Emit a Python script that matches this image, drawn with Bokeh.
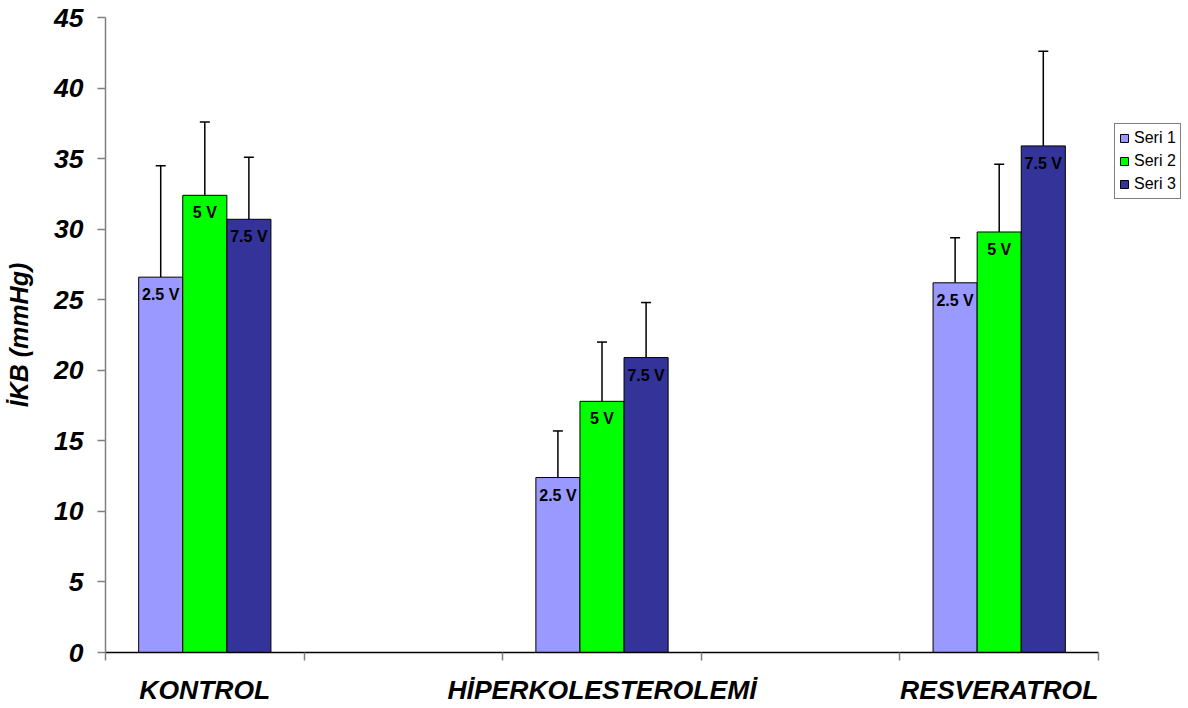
from bokeh.plotting import figure
from bokeh.models import (ColumnDataSource, Whisker, TeeHead, FixedTicker, Legend,
                          LegendItem, Range1d)
from bokeh.core.properties import value
from bokeh.embed import file_html
from bokeh.resources import INLINE

# ---- data ----
categories = ["KONTROL", "HİPERKOLESTEROLEMİ", "RESVERATROL"]
series_names = ["Seri 1", "Seri 2", "Seri 3"]
bar_labels = ["2.5 V", "5 V", "7.5 V"]
seri1 = [26.6, 12.4, 26.2]
seri2 = [32.4, 17.8, 29.8]
seri3 = [30.7, 20.9, 35.9]
err1 = [7.9, 3.3, 3.2]
err2 = [5.2, 4.2, 4.8]
err3 = [4.4, 3.9, 6.7]
y_ticks = [0, 5, 10, 15, 20, 25, 30, 35, 40, 45]
y_label = "İKB (mmHg)"

colors = ["#9999FF", "#00FF00", "#333399"]
FONT = "Liberation Sans"

# ---- layout helpers ----
W, H = 1188, 708
LEFT, RIGHT_PAD, TOP, BOTTOM = 105, 5, 17, 56
AXIS_PX = 993                       # pixel length of the drawn category axis
n_slots = 5                         # each category spans two unit slots (Excel-like gaps)
frame_px = W - LEFT - RIGHT_PAD
x_end = n_slots * frame_px / AXIS_PX  # frame extends right to host the legend

slot = 2.0
bar_w = 0.222
offsets = [-bar_w, 0.0, bar_w]
centers = [slot * i + 0.5 for i in range(len(categories))]

p = figure(width=W, height=H, output_backend="svg", toolbar_location=None,
           x_range=Range1d(0, x_end), y_range=Range1d(0, 45),
           min_border_left=LEFT, min_border_right=RIGHT_PAD,
           min_border_top=TOP, min_border_bottom=BOTTOM)
p.outline_line_color = None
p.xgrid.visible = False
p.ygrid.visible = False
p.background_fill_color = "white"
p.border_fill_color = "white"

values = [seri1, seri2, seri3]
errors = [err1, err2, err3]
renderers = []
for k in range(3):
    xs = [c + offsets[k] for c in centers]
    tops = values[k]
    src = ColumnDataSource(dict(x=xs, top=tops, up=[t + e for t, e in zip(tops, errors[k])],
                                lab=[bar_labels[k]] * len(xs)))
    r = p.vbar(x="x", top="top", width=bar_w, bottom=0, source=src,
               fill_color=colors[k], line_color="black", line_width=1)
    renderers.append(r)
    w = Whisker(source=src, base="x", lower="top", upper="up", dimension="height",
                line_color="black", line_width=1.5,
                upper_head=TeeHead(size=10, line_color="black", line_width=1.5),
                lower_head=None)
    p.add_layout(w)
    p.text(x="x", y="top", text="lab", source=src, text_align="center",
           text_baseline="top", y_offset=9, text_font=value(FONT),
           text_font_style="bold", text_font_size="16px", text_color="black")

# ---- axes ----
xa = p.xaxis[0]
xa.bounds = (0, n_slots)
xa.ticker = FixedTicker(ticks=centers, minor_ticks=list(range(n_slots + 1)))
xa.major_label_overrides = {c: name for c, name in zip(centers, categories)}
xa.major_tick_line_color = None
xa.major_tick_out = 0
xa.major_tick_in = 0
xa.minor_tick_out = 8
xa.minor_tick_in = 0
xa.minor_tick_line_color = "#808080"
xa.minor_tick_line_width = 1.5
xa.axis_line_color = "black"
xa.axis_line_width = 1.5
xa.major_label_text_font = FONT
xa.major_label_text_font_style = "bold italic"
xa.major_label_text_font_size = "26.5px"
xa.major_label_text_color = "black"
xa.major_label_standoff = 14

ya = p.yaxis[0]
ya.ticker = FixedTicker(ticks=y_ticks, minor_ticks=[])
ya.major_tick_out = 8
ya.major_tick_in = 0
ya.major_tick_line_color = "#808080"
ya.major_tick_line_width = 1.5
ya.axis_line_color = "#808080"
ya.axis_line_width = 1.5
ya.major_label_text_font = FONT
ya.major_label_text_font_style = "bold italic"
ya.major_label_text_font_size = "26.5px"
ya.major_label_text_color = "black"
ya.major_label_standoff = 14
ya.axis_label = y_label
ya.axis_label_text_font = FONT
ya.axis_label_text_font_style = "bold italic"
ya.axis_label_text_font_size = "25px"
ya.axis_label_text_color = "black"
ya.axis_label_standoff = 18

# ---- legend ----
LEG_LEFT, LEG_TOP, LEG_H = 1114, 125, 74
legend = Legend(items=[LegendItem(label=n, renderers=[r]) for n, r in zip(series_names, renderers)],
                location=(LEG_LEFT - LEFT, (H - BOTTOM) - LEG_TOP - LEG_H), orientation="vertical",
                border_line_color="black", border_line_width=1,
                background_fill_color="white", background_fill_alpha=1,
                label_text_font=FONT, label_text_font_size="16px", label_text_color="black",
                glyph_width=10, glyph_height=10, label_height=20, label_width=42, spacing=3,
                padding=4, margin=0, label_standoff=5)
p.add_layout(legend)

open("out.html", "w").write(file_html(p, INLINE))
